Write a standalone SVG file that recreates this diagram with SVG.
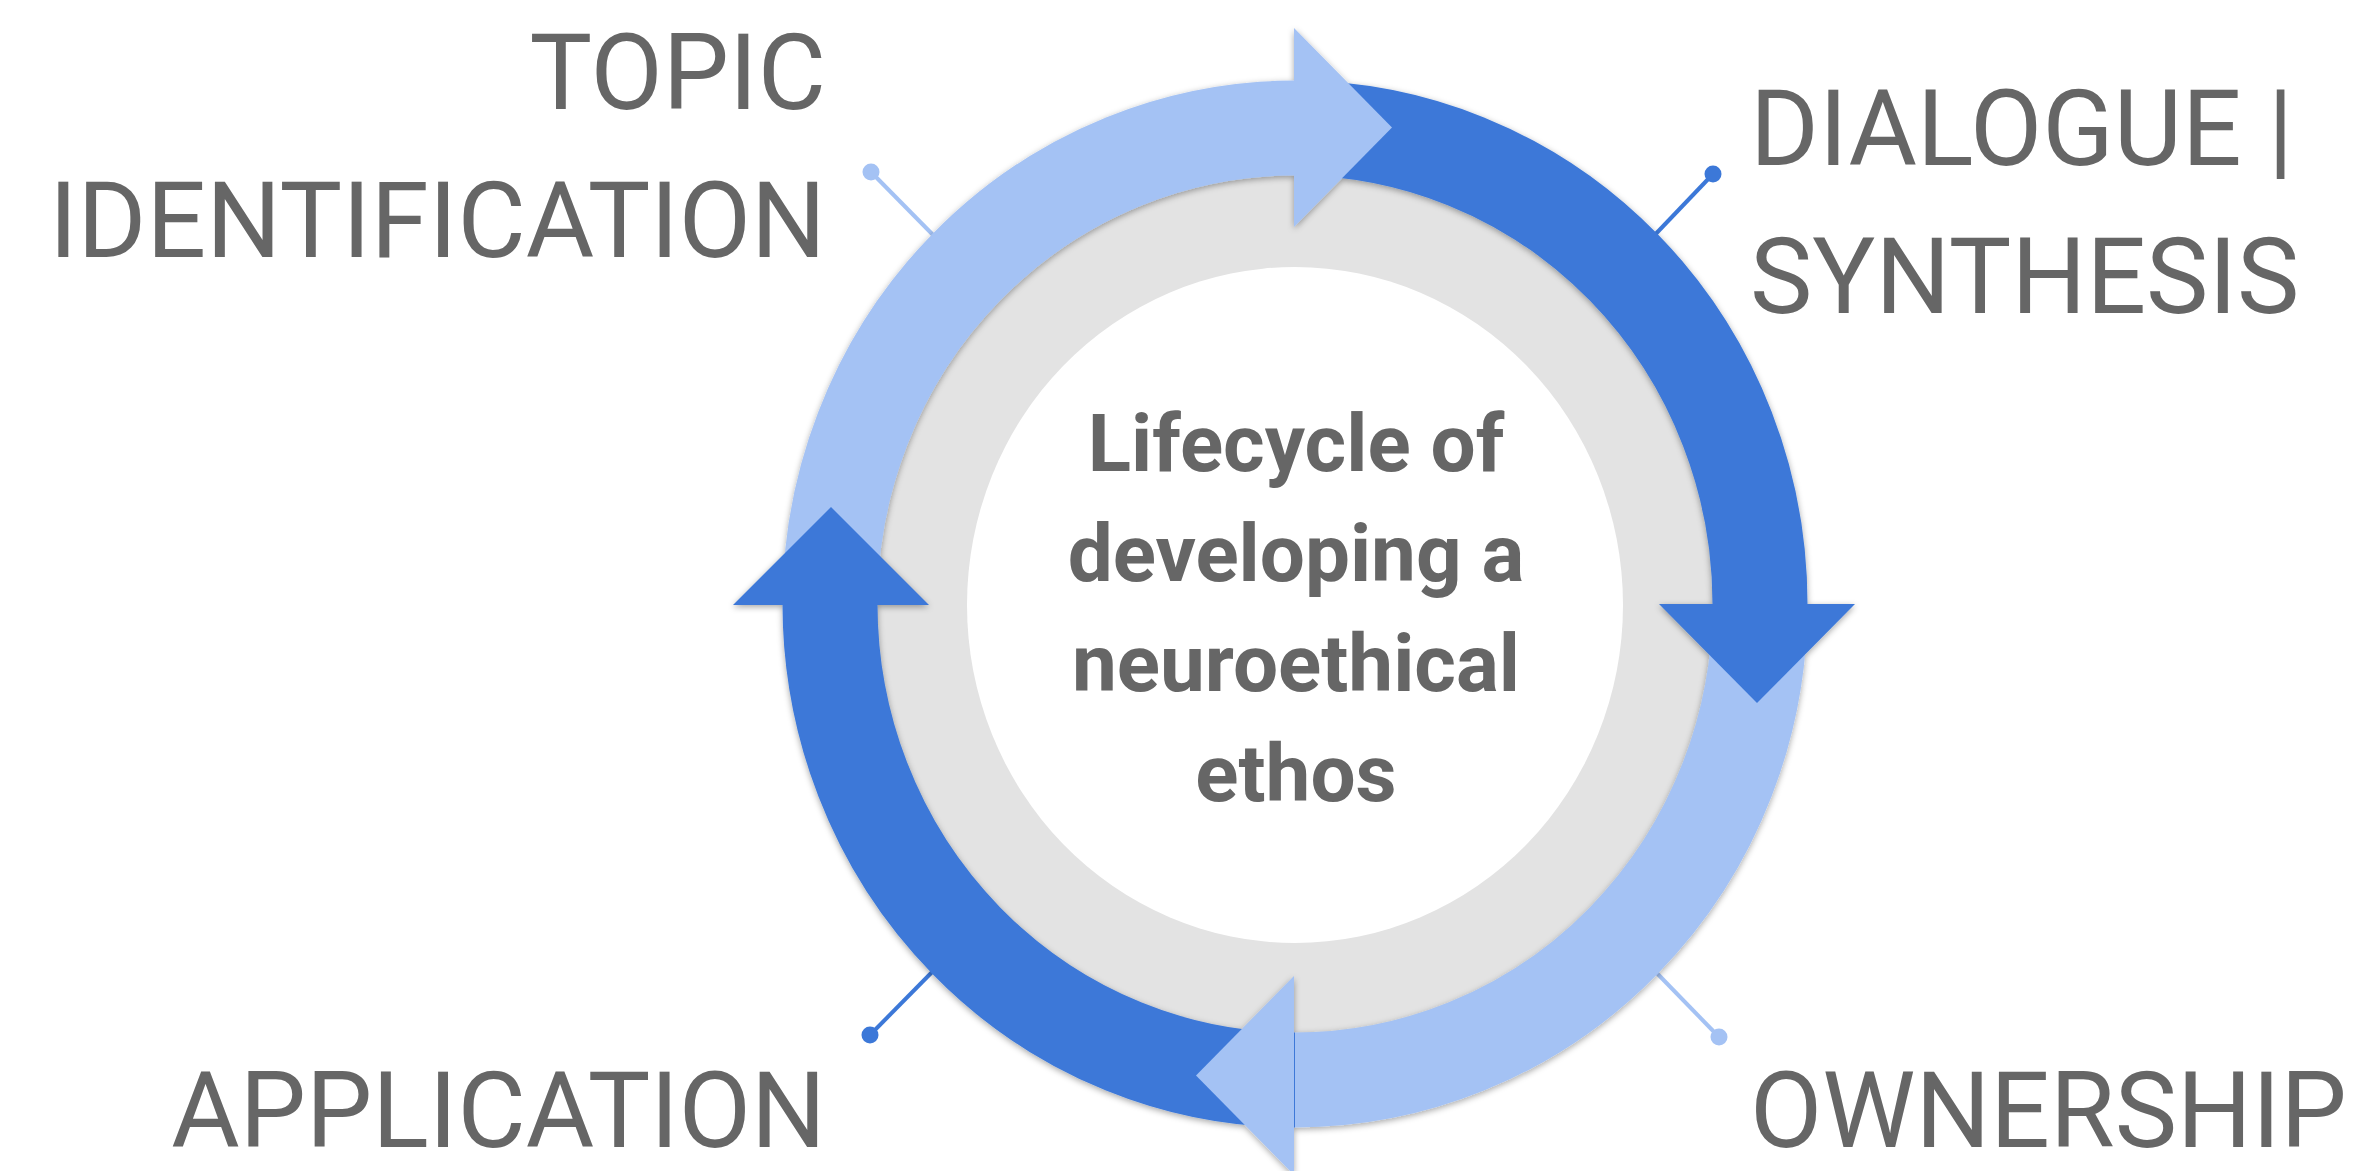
<svg xmlns="http://www.w3.org/2000/svg" width="2358" height="1171" viewBox="0 0 2358 1171">
  <defs>
    <filter id="sh" x="-10%" y="-10%" width="120%" height="120%">
      <feDropShadow dx="0" dy="2" stdDeviation="3" flood-color="#000" flood-opacity="0.35"/>
    </filter>
    <style>
      .lbl { font-family: Roboto, "Liberation Sans", sans-serif; font-size: 105px; fill: #666666; }
      .ctr { font-family: Roboto, "Liberation Sans", sans-serif; font-size: 80px; font-weight: bold; fill: #666666; text-anchor: middle; }
      .dark { fill: #3c78d8; }
      .light { fill: #a4c2f4; }
      .arcD { fill: none; stroke: #3c78d8; stroke-width: 95; }
      .arcL { fill: none; stroke: #a4c2f4; stroke-width: 95; }
      .ldD { stroke: #3c78d8; stroke-width: 4; }
      .ldL { stroke: #a4c2f4; stroke-width: 4; }
    </style>
  </defs>
  <rect width="2358" height="1171" fill="#ffffff"/>

  <g id="connectors">
    <line class="ldL" x1="871" y1="172" x2="940" y2="242"/>
    <circle class="light" cx="871" cy="172" r="8.5"/>
    <line class="ldD" x1="1713" y1="174" x2="1648" y2="242"/>
    <circle class="dark" cx="1713" cy="174" r="8.5"/>
    <line class="ldD" x1="870" y1="1035" x2="940" y2="964"/>
    <circle class="dark" cx="870" cy="1035" r="8.5"/>
    <line class="ldL" x1="1719" y1="1037" x2="1648" y2="964"/>
    <circle class="light" cx="1719" cy="1037" r="8.5"/>
  </g>

  <g id="center">
    <ellipse cx="1295" cy="604" rx="430" ry="440" fill="#e3e3e3"/>
    <ellipse cx="1295" cy="605" rx="328" ry="338" fill="#ffffff"/>
    <text class="ctr" x="1296" y="471">Lifecycle of</text>
    <text class="ctr" x="1296" y="581">developing a</text>
    <text class="ctr" x="1296" y="691">neuroethical</text>
    <text class="ctr" x="1296" y="801">ethos</text>
  </g>

  <g id="cycle" filter="url(#sh)">
    <path id="arc-topic" class="arcL" d="M830,604 A465,476 0 0 1 1295,128"/>
    <path id="arc-dialogue" class="arcD" d="M1295,128 A465,476 0 0 1 1760,604"/>
    <path id="arc-ownership" class="arcL" d="M1760,604 A465,476 0 0 1 1295,1080"/>
    <path id="arc-application" class="arcD" d="M1295,1080 A465,476 0 0 1 830,604"/>
    <polygon id="head-topic" class="light" points="1294,28 1392,127.5 1294,227"/>
    <polygon id="head-dialogue" class="dark" points="1659,604 1855,604 1757,703"/>
    <polygon id="head-ownership" class="light" points="1294,976 1196,1075.5 1294,1175"/>
    <polygon id="head-application" class="dark" points="733,605 929,605 831,507"/>
  </g>

  <g id="label-topic">
    <text class="lbl" x="826" y="109" text-anchor="end">TOPIC</text>
    <text class="lbl" x="826" y="257" text-anchor="end">IDENTIFICATION</text>
  </g>
  <g id="label-dialogue">
    <text class="lbl" x="1750" y="165">DIALOGUE |</text>
    <text class="lbl" x="1750" y="313">SYNTHESIS</text>
  </g>
  <g id="label-application">
    <text class="lbl" x="826" y="1147" text-anchor="end">APPLICATION</text>
  </g>
  <g id="label-ownership">
    <text class="lbl" x="1750" y="1147">OWNERSHIP</text>
  </g>
</svg>
